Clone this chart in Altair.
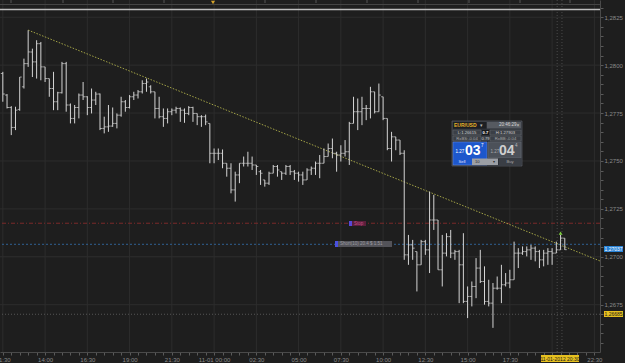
import altair as alt
import pandas as pd

FONT = "Liberation Sans"

# 15-minute EUR/USD bars starting 2012-10-31 11:30
opens = [1.27956,1.27844,1.27779,1.27675,1.27769,1.27887,1.28008,1.28069,1.28017,1.28112,
         1.27991,1.27930,1.27878,1.27809,1.27856,1.28008,1.27792,1.27722,1.27779,1.27844,
         1.27835,1.27779,1.27818,1.27849,1.27670,1.27678,1.27682,1.27696,1.27739,1.27809,
         1.27779,1.27835,1.27844,1.27861,1.27904,1.27887,1.27861,1.27774,1.27731,1.27722,
         1.27757,1.27765,1.27774,1.27765,1.27748,1.27779,1.27748,1.27731,1.27731,1.27696,
         1.27540,1.27540,1.27540,1.27488,1.27462,1.27349,1.27427,1.27488,1.27488,1.27488,
         1.27479,1.27444,1.27401,1.27384,1.27436,1.27471,1.27444,1.27436,1.27471,1.27444,
         1.27436,1.27427,1.27401,1.27453,1.27462,1.27488,1.27488,1.27523,1.27565,1.27540,
         1.27531,1.27540,1.27548,1.27696,1.27757,1.27757,1.27774,1.27774,1.27861,1.27757,
         1.27835,1.27722,1.27565,1.27626,1.27609,1.27540,1.27010,1.27062,1.27027,1.26958,
         1.27079,1.27036,1.27192,1.27192,1.26932,1.27019,1.27105,1.27019,1.27027,1.26958,
         1.26767,1.26793,1.26845,1.26941,1.26871,1.26767,1.26758,1.26836,1.26836,1.26854,
         1.26863,1.26880,1.27019,1.27019,1.27027,1.27036,1.27045,1.27027,1.26984,1.27019,
         1.27027,1.27019,1.27036,1.27097]
highs = [1.27965,1.27849,1.27786,1.27783,1.27938,1.28034,1.28182,1.28086,1.28130,1.28121,
         1.27991,1.27930,1.27965,1.27861,1.28017,1.28017,1.27800,1.27792,1.27852,1.27912,
         1.27838,1.27878,1.27861,1.27852,1.27731,1.27792,1.27779,1.27748,1.27835,1.27818,
         1.27844,1.27861,1.27870,1.27921,1.27930,1.27895,1.27861,1.27835,1.27774,1.27774,
         1.27774,1.27783,1.27779,1.27774,1.27786,1.27783,1.27748,1.27739,1.27742,1.27696,
         1.27565,1.27565,1.27560,1.27488,1.27488,1.27444,1.27488,1.27523,1.27548,1.27523,
         1.27479,1.27453,1.27401,1.27444,1.27479,1.27479,1.27444,1.27479,1.27479,1.27453,
         1.27444,1.27444,1.27462,1.27471,1.27497,1.27531,1.27565,1.27591,1.27617,1.27548,
         1.27582,1.27609,1.27704,1.27835,1.27826,1.27835,1.27792,1.27887,1.27861,1.27904,
         1.27835,1.27722,1.27652,1.27626,1.27609,1.27556,1.27114,1.27088,1.27027,1.27088,
         1.27088,1.27340,1.27323,1.27192,1.27114,1.27123,1.27140,1.27036,1.27036,1.27123,
         1.26845,1.26871,1.26993,1.27036,1.26950,1.26880,1.26863,1.26897,1.26958,1.26915,
         1.26932,1.27079,1.27045,1.27054,1.27054,1.27062,1.27054,1.27036,1.27036,1.27045,
         1.27045,1.27079,1.27114,1.27097]
lows = [1.27809,1.27774,1.27635,1.27661,1.27762,1.27878,1.27991,1.27938,1.27930,1.27921,
        1.27912,1.27835,1.27765,1.27765,1.27852,1.27757,1.27696,1.27696,1.27722,1.27818,
        1.27739,1.27748,1.27792,1.27661,1.27644,1.27652,1.27678,1.27670,1.27731,1.27757,
        1.27774,1.27818,1.27826,1.27852,1.27861,1.27852,1.27722,1.27722,1.27678,1.27696,
        1.27739,1.27748,1.27704,1.27699,1.27739,1.27704,1.27687,1.27678,1.27687,1.27488,
        1.27488,1.27505,1.27462,1.27418,1.27331,1.27288,1.27384,1.27471,1.27471,1.27453,
        1.27427,1.27375,1.27366,1.27375,1.27436,1.27418,1.27401,1.27427,1.27427,1.27401,
        1.27392,1.27375,1.27401,1.27427,1.27427,1.27410,1.27488,1.27523,1.27514,1.27444,
        1.27497,1.27523,1.27479,1.27696,1.27661,1.27687,1.27713,1.27722,1.27748,1.27757,
        1.27713,1.27556,1.27497,1.27556,1.27531,1.26984,1.26958,1.26984,1.26819,1.26958,
        1.27010,1.26915,1.27140,1.26932,1.26845,1.27002,1.26993,1.26984,1.26758,1.26758,
        1.26680,1.26741,1.26784,1.26863,1.26750,1.26741,1.26629,1.26828,1.26758,1.26845,
        1.26836,1.26880,1.26941,1.27010,1.27002,1.26984,1.26976,1.26941,1.26950,1.26958,
        1.26958,1.27019,1.27036,1.27036]
closes = [1.27849,1.27779,1.27675,1.27765,1.27938,1.28008,1.28069,1.28017,1.28112,1.27991,
          1.27930,1.27878,1.27809,1.27856,1.28008,1.27792,1.27722,1.27779,1.27844,1.27835,
          1.27779,1.27818,1.27849,1.27670,1.27678,1.27682,1.27696,1.27739,1.27809,1.27779,
          1.27835,1.27844,1.27861,1.27904,1.27912,1.27861,1.27774,1.27731,1.27722,1.27757,
          1.27765,1.27774,1.27765,1.27748,1.27779,1.27748,1.27731,1.27731,1.27704,1.27540,
          1.27540,1.27540,1.27488,1.27462,1.27349,1.27427,1.27488,1.27488,1.27488,1.27479,
          1.27471,1.27436,1.27384,1.27436,1.27471,1.27453,1.27436,1.27471,1.27444,1.27436,
          1.27427,1.27401,1.27453,1.27462,1.27488,1.27488,1.27523,1.27565,1.27540,1.27531,
          1.27540,1.27548,1.27696,1.27757,1.27757,1.27774,1.27774,1.27861,1.27757,1.27844,
          1.27722,1.27565,1.27626,1.27609,1.27540,1.27010,1.27062,1.27045,1.26958,1.27079,
          1.27036,1.27192,1.27192,1.26932,1.27019,1.27105,1.27019,1.27027,1.26958,1.26767,
          1.26793,1.26845,1.26941,1.26871,1.26767,1.26758,1.26836,1.26836,1.26854,1.26863,
          1.26880,1.27019,1.27019,1.27027,1.27036,1.27045,1.27027,1.26984,1.27019,1.27027,
          1.27019,1.27036,1.27097,1.27037]

# time axis (minutes after 10-31 11:30)
label_minutes = [0, 150, 300, 450, 600, 750, 900, 1050, 1200, 1350, 1500, 1650, 1800, 1950, 2100]
label_texts = ["11:30", "14:00", "16:30", "19:00", "21:30", "11-01 00:00", "02:30", "05:00",
               "07:30", "10:00", "12:30", "15:00", "17:30", "", "22:30"]
minor_minutes = list(range(0, 2101, 30))

grid_prices = [1.2675, 1.2700, 1.2725, 1.2750, 1.2775, 1.2800, 1.2825]
price_ticks = [round(1.2655 + 0.0005 * k, 4) for k in range(36)]

trend_t = [90, 2120]
trend_p = [1.28183, 1.26978]

stop_level = 1.27175
entry_level = 1.27065
low_level = 1.26700
now_lines = [1968, 1985]
signal_t = [1980]
signal_p = [1.27123]

n = len(opens)
df = pd.DataFrame({"t": [15 * i for i in range(n)], "open": opens, "high": highs,
                   "low": lows, "close": closes})

xs = alt.Scale(domain=[-10, 2120], nice=False, zero=False)
ys = alt.Scale(domain=[1.26503, 1.28340], nice=False, zero=False)

lab = "''"
for m, s in reversed(list(zip(label_minutes, label_texts))):
    lab = f"datum.value == {m} ? '{s}' : ({lab})"

x_axis = alt.Axis(values=minor_minutes, labelExpr=lab, grid=False, domainColor="#4a4a4a",
                  tickColor="#5a5a5a", tickSize=3, labelColor="#8a8a8a", labelFontSize=6,
                  labelFont=FONT, labelPadding=1, labelOverlap=False, labelFlush=False,
                  title=None)
y_axis = alt.Axis(orient="right", values=price_ticks,
                  labelExpr="abs(datum.value*400 - round(datum.value*400)) < 0.001 ? replace(format(datum.value, '.4f'), '.', ',') : ''",
                  grid=False, domainColor="#4a4a4a", tickColor="#5a5a5a", tickSize=3,
                  labelColor="#8a8a8a", labelFontSize=6, labelFont=FONT, labelPadding=1,
                  labelOverlap=False, labelFlush=False, title=None)


def X(field):
    return alt.X(field, scale=xs, axis=x_axis)


def Y(field):
    return alt.Y(field, scale=ys, axis=y_axis)


one = pd.DataFrame({"k": [0]})


def rect(x1, y1, x2, y2, fill, stroke=None, sw=0.6):
    kw = dict(fill=fill)
    if stroke:
        kw.update(stroke=stroke, strokeWidth=sw)
    return alt.Chart(one).mark_rect(**kw).encode(
        x=alt.value(x1), x2=alt.value(x2), y=alt.value(y1), y2=alt.value(y2))


def text(x, y, s, color, size=5.5, align="left", weight="normal"):
    return alt.Chart(one).mark_text(text=s, color=color, fontSize=size, align=align,
                                    baseline="middle", fontWeight=weight, font=FONT).encode(
        x=alt.value(x), y=alt.value(y))


def hrule(y, x1, x2, color, sw=1, dash=None):
    kw = dict(color=color, strokeWidth=sw)
    if dash:
        kw.update(strokeDash=dash)
    return alt.Chart(one).mark_rule(**kw).encode(
        x=alt.value(x1), x2=alt.value(x2), y=alt.value(y))


BAR = "#d4d4d4"

grid_h = alt.Chart(pd.DataFrame({"p": grid_prices})).mark_rule(color="#2d2d2d", strokeWidth=1).encode(
    y=Y("p:Q"))
grid_v = alt.Chart(pd.DataFrame({"t": label_minutes})).mark_rule(color="#2d2d2d", strokeWidth=1).encode(
    x=X("t:Q"))

levels = pd.DataFrame({"p": [stop_level, entry_level, low_level],
                       "kind": ["stop", "entry", "low"]})
stop_line = alt.Chart(levels[levels.kind == "stop"]).mark_rule(
    color="#7c2a2a", strokeWidth=1, strokeDash=[4, 2, 1, 2]).encode(y=Y("p:Q"))
entry_line = alt.Chart(levels[levels.kind == "entry"]).mark_rule(
    color="#2f5f92", strokeWidth=1, strokeDash=[2, 2]).encode(y=Y("p:Q"))
low_line = alt.Chart(levels[levels.kind == "low"]).mark_rule(
    color="#555555", strokeWidth=1, strokeDash=[1, 2]).encode(y=Y("p:Q"))
now_v = alt.Chart(pd.DataFrame({"t": now_lines})).mark_rule(
    color="#4a4a4a", strokeWidth=1, strokeDash=[1, 2]).encode(x=X("t:Q"))

trend = alt.Chart(pd.DataFrame({"t": trend_t, "p": trend_p})).mark_line(
    color="#a3a346", strokeWidth=1, strokeDash=[1.5, 1.5], clip=True).encode(
    x=X("t:Q"), y=Y("p:Q"))

base = alt.Chart(df)
hl = base.mark_rule(color=BAR, strokeWidth=1, clip=True).encode(
    x=X("t:Q"), y=Y("low:Q"), y2="high:Q")
op = base.mark_tick(orient="horizontal", size=2, thickness=1, xOffset=-1, color=BAR, clip=True).encode(
    x=X("t:Q"), y=Y("open:Q"))
cl = base.mark_tick(orient="horizontal", size=2, thickness=1, xOffset=1, color=BAR, clip=True).encode(
    x=X("t:Q"), y=Y("close:Q"))

signal = alt.Chart(pd.DataFrame({"t": signal_t, "p": signal_p})).mark_point(
    shape="triangle-up", filled=True, size=14, color="#7ccf3c", opacity=1).encode(
    x=X("t:Q"), y=Y("p:Q"))

# top strip
top_ticks = alt.Chart(pd.DataFrame({"px": [11, 63, 113, 164, 265, 316, 367, 418, 469, 520, 570]})).mark_rule(
    color="#555555").encode(x=alt.X("px:Q", scale=None), y=alt.value(0), y2=alt.value(3))
top_parts = [
    hrule(4.5, 0, 600, "#444444"),
    hrule(9.5, 0, 600, "#bdbdbd", 1.4),
    top_ticks,
    alt.Chart(one).mark_point(shape="triangle-down", filled=True, size=16, color="#d8a52a", opacity=1).encode(
        x=alt.value(213), y=alt.value(2.5)),
]

# order tags
tags = [
    rect(349, 221, 352, 226, "#5848d8"),
    rect(352, 221, 366, 226, "#5a1f3c"),
    text(354, 223.7, "Stop", "#c8508a", 4.5),
    rect(335, 241, 338, 247, "#4a50e0"),
    rect(338, 241, 392, 247, "#535359"),
    text(340, 244.2, "Short(10) 20.4 $ 1.51", "#9a9aa0", 4.5),
]

# price / time flags
flags = [
    rect(604, 246, 623, 252, "#2a83d6"),
    text(613.5, 249.2, "1,27037", "#ffffff", 5, align="center"),
    rect(604, 311, 623, 317, "#e6c01f"),
    text(613.5, 314.2, "1,26685", "#1a1a1a", 5, align="center"),
    rect(541, 355, 579, 362, "#e6c01f"),
    text(560, 358.7, "11-01-2012 20:30", "#1a1a1a", 5, align="center"),
]

# trading widget
widget = [
    rect(452, 121, 522, 166, "#2b2f36", "#61666e"),
    rect(453, 122, 486, 128.5, "#1d1f23"),
    text(454, 125.3, "EUR/USD", "#e8b22a", 5, weight="bold"),
    text(480, 125.3, "▾", "#bbbbbb", 5),
    rect(487, 122, 521, 128.5, "#565a61"),
    text(499, 125.3, "20:46:29", "#d6d6d6", 4.5),
    text(518, 125.3, "×", "#d6d6d6", 5, align="center"),
    rect(453, 130, 481, 135, "#3b3f46", "#686c73", 0.5),
    text(467, 132.7, "L:1.26615", "#cfcfcf", 4.2, align="center"),
    rect(482, 130, 489, 135, "#18191c"),
    text(485.5, 132.7, "0.7", "#ffffff", 4.2, align="center", weight="bold"),
    rect(490, 130, 521, 135, "#3b3f46", "#686c73", 0.5),
    text(505.5, 132.7, "H:1.27903", "#cfcfcf", 4.2, align="center"),
    rect(453, 136, 481, 141, "#3b3f46", "#686c73", 0.5),
    text(467, 138.7, "RxBS:-0.04", "#a8a8a8", 4.2, align="center"),
    rect(482, 136, 489, 141, "#3b3f46"),
    text(485.5, 138.7, "0.79", "#cfcfcf", 4.2, align="center"),
    rect(490, 136, 521, 141, "#3b3f46", "#686c73", 0.5),
    text(505.5, 138.7, "RxBB:-0.04", "#a8a8a8", 4.2, align="center"),
    rect(453, 142, 487, 165, "#1d57cc", "#6b8fe0", 0.5),
    text(455.5, 151.5, "1.27", "#ffffff", 4.5),
    text(465, 150.5, "03", "#ffffff", 14, weight="bold"),
    text(481, 145.5, "7", "#ffffff", 4.5),
    text(462, 162, "Sell", "#e0e0ff", 4.2, align="center"),
    rect(488, 142, 521, 158, "#4c5159", "#6a6f77", 0.5),
    text(490.5, 151.5, "1.27", "#a9a9a9", 4.5),
    text(499, 150.5, "04", "#cfcfcf", 14, weight="bold"),
    text(515, 145.5, "4", "#bcbcbc", 4.5),
    rect(472, 158.5, 498, 165, "#9c9fa5"),
    text(475, 161.8, "10", "#2b2b2b", 4.2),
    text(494, 161.8, "▾", "#2b2b2b", 4.2, align="center"),
    rect(499, 158.5, 521, 165, "#3a3e45"),
    text(510, 161.8, "Buy", "#a9a9a9", 4.2, align="center"),
]

layers = [grid_h, grid_v, low_line, entry_line, stop_line, now_v, trend, hl, op, cl, signal] \
    + top_parts + tags + flags + widget

chart = alt.layer(*layers).properties(
    width=600, height=352, background="#1e1e1e",
    padding={"left": 0, "top": 0, "right": 25, "bottom": 11},
    autosize=alt.AutoSizeParams(type="none"),
).configure_view(stroke=None)

chart.save("out.html", embed_options={"renderer": "svg", "actions": False})
